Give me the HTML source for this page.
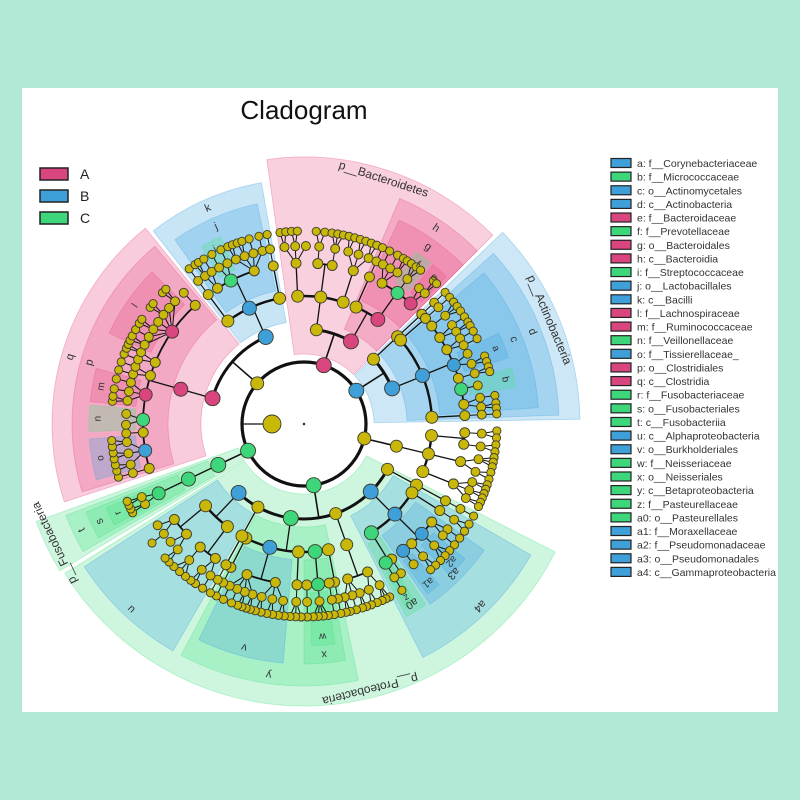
<!DOCTYPE html>
<html><head><meta charset="utf-8">
<style>
html,body{margin:0;padding:0;background:#b2e8d6;}
svg{display:block;}
text{font-family:"Liberation Sans","DejaVu Sans",sans-serif;}
</style></head>
<body>
<svg id="s" width="800" height="800" viewBox="0 0 800 800" xmlns="http://www.w3.org/2000/svg">
<rect x="0" y="0" width="800" height="800" fill="#b2e8d6"/>
<rect x="22" y="88" width="756" height="624" fill="#ffffff"/>
<text x="304" y="119" font-size="26" text-anchor="middle" fill="#111">Cladogram</text>
<g id="sectors"></g>
<g id="edges"></g>
<g id="nodes"></g>
<g id="labels" fill="#333" text-anchor="middle" dominant-baseline="middle"></g>
<g id="leg1" font-size="14" fill="#222">
<rect x="40" y="168" width="28" height="12" fill="#d9457f" stroke="#222" stroke-width="1.5"/><text x="80" y="179">A</text>
<rect x="40" y="190" width="28" height="12" fill="#3f9fd9" stroke="#222" stroke-width="1.5"/><text x="80" y="201">B</text>
<rect x="40" y="212" width="28" height="12" fill="#3ed67a" stroke="#222" stroke-width="1.5"/><text x="80" y="223">C</text>
</g>
<g id="leg2" font-size="10.5" fill="#333"></g>
</svg>
<script>
(function(){
const NS="http://www.w3.org/2000/svg";
const cx=304,cy=424;
const R=[0,62,95,128,161,178,193];
const COL={A:'#d9457f',B:'#3f9fd9',C:'#3ed67a'};
const SF={A:'#e8558a',B:'#4aa8e0',C:'#4fe08a'};
let seed=12345;
function rnd(){seed|=0;seed=seed+0x6D2B79F5|0;let t=Math.imul(seed^seed>>>15,1|seed);t=t+Math.imul(t^t>>>7,61|t)^t;return((t^t>>>14)>>>0)/4294967296;}
function pt(r,a){const t=a*Math.PI/180;return [cx+r*Math.cos(t),cy+r*Math.sin(t)];}
function el(g,tag,attrs){const e=document.createElementNS(NS,tag);for(const k in attrs)e.setAttribute(k,attrs[k]);document.getElementById(g).appendChild(e);return e;}
function sector(a0,a1,r0,r1){const p1=pt(r1,a0),p2=pt(r1,a1),p3=pt(r0,a1),p4=pt(r0,a0);const lg=(a1-a0)>180?1:0;
return `M${p1[0]},${p1[1]} A${r1},${r1} 0 ${lg} 1 ${p2[0]},${p2[1]} L${p3[0]},${p3[1]} A${r0},${r0} 0 ${lg} 0 ${p4[0]},${p4[1]} Z`;}
function arc(r,a0,a1){const p1=pt(r,a0),p2=pt(r,a1);const lg=(a1-a0)>180?1:0;return `M${p1[0]},${p1[1]} A${r},${r} 0 ${lg} 1 ${p2[0]},${p2[1]}`;}

const H=[
[1,316,359,'B',276,'p__Actinobacteria'],
[1,262,315,'A',267,'p__Bacteroidetes'],
[1,149,160,'C',285,'p__Fusobacteria'],
[1,27,148,'C',282,'p__Proteobacteria'],
[1,161,261,null,0,''],
[1,1,26,null,0,''],
[2,318,358,'B',255,'d'],
[2,293,315,'A',245,'h'],
[2,232,260,'B',245,'k'],
[2,162,231,'A',252,'q'],
[2,150,159,'C',255,'t'],
[2,120,147,'B',262,'u'],
[2,78,118,'C',262,'y'],
[2,30,63,'B',262,'a4'],
[3,320,356,'B',235,'c'],
[3,295,315,'A',225,'g'],
[3,235,258,'B',225,'j'],
[3,163,230,'A',232,'p'],
[3,151,158,'C',235,'s'],
[3,95,116,'B',240,'v'],
[3,80,90,'C',240,'x'],
[3,35,55,'B',220,'a3'],
[3,56,62,'C',218,'a0'],
[4,335,342,'B',215,'a'],
[4,345,350,'C',215,'b'],
[4,303,308,'C',205,'f'],
[4,309,314,'A',205,'e'],
[4,240,246,'C',205,'i'],
[4,205,225,'A',215,'l'],
[4,186,195,'A',215,'m'],
[4,178,185,'C',215,'n'],
[4,165,176,'B',215,'o'],
[4,152,157,'C',215,'r'],
[4,82,88,'C',222,'w'],
[4,58,61,'C',210,'z'],
[4,50,54,'B',210,'a1'],
[4,40,46,'B',210,'a2']
].map(h=>({l:h[0],a0:h[1],a1:h[2],c:h[3],o:h[4],t:h[5]}));

H.filter(h=>h.c).sort((a,b)=>a.l-b.l).forEach(h=>{
  el('sectors','path',{d:sector(h.a0,h.a1,R[h.l]+8,h.o),fill:SF[h.c],'fill-opacity':h.l==1?0.28:0.3,stroke:SF[h.c],'stroke-opacity':0.4,'stroke-width':0.8});
});

const TGT=[0,0,25,12,7,3.4,1.9];
function build(node){
  const l=node.l;
  if(l>=6) return;
  let kids=[];
  if(l==5){
    if(rnd()<0.12) return;
    const w=node.a1-node.a0;const n=Math.max(1,Math.round(w/TGT[6]*(0.8+rnd()*0.5)));
    for(let i=0;i<n;i++){const a0=node.a0+w*i/n,a1=node.a0+w*(i+1)/n;kids.push({l:6,a0,a1,c:null});}
  } else {
    const forced=H.filter(h=>h.l==l+1&&h.a0>=node.a0-0.01&&h.a1<=node.a1+0.01).sort((a,b)=>a.a0-b.a0);
    let cur=node.a0;
    const fill=(g0,g1)=>{const w=g1-g0;if(w<2)return;const n=Math.max(1,Math.round(w/TGT[l+1]*(0.7+rnd()*0.6)));
      for(let i=0;i<n;i++)kids.push({l:l+1,a0:g0+w*i/n,a1:g0+w*(i+1)/n,c:null});};
    forced.forEach(f=>{fill(cur,f.a0);kids.push({l:l+1,a0:f.a0,a1:f.a1,c:f.c});cur=f.a1;});
    fill(cur,node.a1);
  }
  node.kids=kids;
  kids.forEach(build);
}
const root={l:0,a0:0,a1:360,kids:[]};
H.filter(h=>h.l==1).forEach(h=>{const n={l:1,a0:h.a0,a1:h.a1,c:h.c};root.kids.push(n);build(n);});
function setAng(n){if(n.kids&&n.kids.length){n.kids.forEach(setAng);n.a=(n.kids[0].a+n.kids[n.kids.length-1].a)/2;}else n.a=(n.a0+n.a1)/2;}
root.kids.forEach(setAng);

const AW=[3.2,3,2.4,1.8];
const nodesList=[];
function draw(n){
  if(n.l>0) nodesList.push(n);
  if(!n.kids||!n.kids.length) return;
  const ka=n.kids.map(k=>k.a);const mn=Math.min(...ka),mx=Math.max(...ka);
  if(n.l==0){
  } else if(n.l<=3){
    const rc=R[n.l+1];
    const p=pt(R[n.l],n.a),q=pt(rc,n.a);
    el('edges','line',{x1:p[0],y1:p[1],x2:q[0],y2:q[1],stroke:'#111','stroke-width':n.l<=1?1.6:1.3});
    if(mx-mn>0.3) el('edges','path',{d:arc(rc,mn,mx),fill:'none',stroke:'#111','stroke-width':AW[n.l]});
  } else {
    const p=pt(R[n.l],n.a);
    n.kids.forEach(k=>{const q=pt(R[k.l],k.a);el('edges','line',{x1:p[0],y1:p[1],x2:q[0],y2:q[1],stroke:'#111','stroke-width':1});});
  }
  n.kids.forEach(draw);
}
draw(root);
el('edges','circle',{cx:cx,cy:cy,r:62,fill:'none',stroke:'#111','stroke-width':3.2});
el('edges','line',{x1:272,y1:cy,x2:242,y2:cy,stroke:'#111','stroke-width':1.3});
const YR=[0,6.5,6,6,5,4.5,4.1],CR=[0,7.5,7.5,7,6.5,6,5];
nodesList.sort((a,b)=>b.l-a.l||((a.c?1:0)-(b.c?1:0)));
nodesList.forEach(n=>{const p=pt(R[n.l],n.a);
  el('nodes','circle',{cx:p[0],cy:p[1],r:n.c?CR[n.l]:YR[n.l],fill:n.c?COL[n.c]:'#c9b80a',stroke:'#3a3a2a','stroke-width':0.9});});
el('nodes','circle',{cx:272,cy:cy,r:9,fill:'#c9b80a',stroke:'#3a3a2a','stroke-width':0.9});
el('nodes','circle',{cx:cx,cy:cy,r:1.3,fill:'#333'});

const g=document.getElementById('labels');
const L=[
['p__Actinobacteria',337,266,12],['p__Bacteroidetes',288,257,12],['p__Fusobacteria',154.5,276,12],['p__Proteobacteria',76,273,12],
['d',338,246,11],['h',304,236,11],['k',246,236,11],['q',196,243,11],['t',154.5,246,11],['u',133,253,11],['y',98,253,11],['a4',46,253,11],
['c',338,226,11],['g',305,216,11],['j',246,216,11],['p',196,223,11],['s',154.5,226,11],['v',105,231,11],['x',85,231,11],['a3',45,211,11],['a0',59,209,11],
['a',338.5,206,10],['b',347.5,206,10],['f',305.5,196,10],['e',311.5,196,10],['i',243,196,10],['l',215,206,10],['m',190.5,206,10],['n',181.5,206,10],['o',170.5,206,10],['r',154.5,206,10],['w',85,213,10],['z',59.5,201,10],['a1',52,201,10],['a2',43,201,10]
];
L.forEach(l=>{const p=pt(l[2],l[1]);const t=document.createElementNS(NS,'text');
  t.setAttribute('x',p[0]);t.setAttribute('y',p[1]);t.setAttribute('font-size',l[3]);
  t.setAttribute('transform',`rotate(${l[1]+90} ${p[0]} ${p[1]})`);t.textContent=l[0];g.appendChild(t);});

const items=[
['a: f__Corynebacteriaceae','B'],['b: f__Micrococcaceae','C'],['c: o__Actinomycetales','B'],['d: c__Actinobacteria','B'],
['e: f__Bacteroidaceae','A'],['f: f__Prevotellaceae','C'],['g: o__Bacteroidales','A'],['h: c__Bacteroidia','A'],
['i: f__Streptococcaceae','C'],['j: o__Lactobacillales','B'],['k: c__Bacilli','B'],['l: f__Lachnospiraceae','A'],
['m: f__Ruminococcaceae','A'],['n: f__Veillonellaceae','C'],['o: f__Tissierellaceae_','B'],['p: o__Clostridiales','A'],
['q: c__Clostridia','A'],['r: f__Fusobacteriaceae','C'],['s: o__Fusobacteriales','C'],['t: c__Fusobacteriia','C'],
['u: c__Alphaproteobacteria','B'],['v: o__Burkholderiales','B'],['w: f__Neisseriaceae','C'],['x: o__Neisseriales','C'],
['y: c__Betaproteobacteria','C'],['z: f__Pasteurellaceae','C'],['a0: o__Pasteurellales','C'],['a1: f__Moraxellaceae','B'],
['a2: f__Pseudomonadaceae','B'],['a3: o__Pseudomonadales','B'],['a4: c__Gammaproteobacteria','B']];
const g2=document.getElementById('leg2');
items.forEach((it,i)=>{const y=163+i*13.63;
  const r=document.createElementNS(NS,'rect');r.setAttribute('x',611);r.setAttribute('y',y-4.5);r.setAttribute('width',20);r.setAttribute('height',9);
  r.setAttribute('fill',COL[it[1]]);r.setAttribute('stroke','#222');r.setAttribute('stroke-width',1.2);g2.appendChild(r);
  const t=document.createElementNS(NS,'text');t.setAttribute('x',637);t.setAttribute('y',y+4);t.textContent=it[0];g2.appendChild(t);});
})();
</script>
</body></html>
